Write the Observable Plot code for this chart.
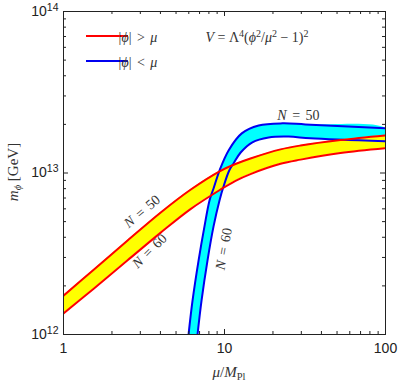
<!DOCTYPE html>
<html><head><meta charset="utf-8">
<script src="https://cdn.jsdelivr.net/npm/d3@7"></script>
<script src="https://cdn.jsdelivr.net/npm/@observablehq/plot@0.6"></script>
<style>body{margin:0;background:#fff}</style>
</head><body><div id="chart"></div>
<script>
// ---- data ----
const xMajor = [1, 10, 100];
const yMajor = [1e12, 1e13, 1e14];
const xMinor = [2, 3, 4, 5, 6, 7, 8, 9, 20, 30, 40, 50, 60, 70, 80, 90];
const yMinor = [2e12, 3e12, 4e12, 5e12, 6e12, 7e12, 8e12, 9e12, 2e13, 3e13, 4e13, 5e13, 6e13, 7e13, 8e13, 9e13];

// |phi| > mu  (yellow band, red borders)
const yellowMu  = [1, 1.54, 2.5, 4.0, 6.15, 9.45, 11.7, 14.5, 22.3, 29.7, 52.5, 100];
const yellowN50 = [1.74e12, 2.52e12, 3.82e12, 5.68e12, 7.88e12, 1.032e13, 1.137e13, 1.23e13, 1.40e13, 1.48e13, 1.60e13, 1.71e13];
const yellowN60 = [1.35e12, 1.92e12, 2.88e12, 4.26e12, 5.98e12, 7.90e12, 8.95e12, 9.85e12, 1.14e13, 1.21e13, 1.33e13, 1.425e13];

// |phi| < mu  (cyan band, blue borders)
const cyanN50Mu = [5.98, 6.33, 6.90, 7.51, 8.07, 8.55, 9.31, 10.6, 12.8, 16.3, 22.9, 31.8, 100];
const cyanN50M  = [1e12, 1.62e12, 2.87e12, 4.67e12, 6.76e12, 8.02e12, 1.036e13, 1.38e13, 1.76e13, 1.97e13, 2.03e13, 2.0e13, 1.89e13];
const cyanN60Mu = [6.80, 7.20, 7.84, 8.55, 9.31, 9.86, 10.7, 11.4, 12.6, 14.9, 18.8, 25.0, 34.2, 100];
const cyanN60M  = [1e12, 1.62e12, 2.87e12, 4.67e12, 6.76e12, 8.25e12, 1.036e13, 1.15e13, 1.34e13, 1.55e13, 1.66e13, 1.68e13, 1.64e13, 1.57e13];

// curve annotations
const labelText  = ["N = 50", "N = 60", "N = 60", "N = 50"];
const labelMu    = [3.08, 3.42, 9.9, 28.8];
const labelM     = [5.78e12, 3.29e12, 3.39e12, 2.27e13];
const labelAngle = [-40, -45, -80, 0];

const legendText = ["|ϕ| > μ", "|ϕ| < μ"];
const red = "#ff0000", blue = "#0000f0", yellow = "#ffff00", cyan = "#00ffff";

// ---- tables built from the arrays ----
const yellowRows = yellowMu.map((mu, i) => ({mu, n50: yellowN50[i], n60: yellowN60[i]}));
const c50 = cyanN50Mu.map((mu, i) => ({mu, m: cyanN50M[i]}));
const c60 = cyanN60Mu.map((mu, i) => ({mu, m: cyanN60M[i]}));
const cyanPoly = c50.concat(c60.slice().reverse());
const labels = labelText.map((t, i) => ({t, mu: labelMu[i], m: labelM[i], a: labelAngle[i]}));

const W = 398, H = 381, ML = 63, MR = 13, MT = 11, MB = 47;
const PW = W - ML - MR, PH = H - MT - MB;
const majorLen = 5, minorLen = 3;
const curve = "catmull-rom";
const ink = "#222";

const svg = Plot.plot({
  width: W, height: H,
  marginLeft: ML, marginRight: MR, marginTop: MT, marginBottom: MB,
  style: {fontFamily: "'Liberation Sans', Arial, sans-serif", fontSize: "14px", background: "#fff", color: ink},
  x: {type: "log", domain: [1, 100]},
  y: {type: "log", domain: [1e12, 1e14]},
  marks: [
    Plot.line(cyanPoly, {x: "mu", y: "m", fill: cyan, stroke: "none", curve, clip: true}),
    Plot.areaY(yellowRows, {x: "mu", y1: "n60", y2: "n50", fill: yellow, curve, clip: true}),
    Plot.line(c50, {x: "mu", y: "m", stroke: blue, strokeWidth: 2, curve, clip: true}),
    Plot.line(c60, {x: "mu", y: "m", stroke: blue, strokeWidth: 2, curve, clip: true}),
    Plot.line(yellowRows, {x: "mu", y: "n50", stroke: red, strokeWidth: 2, curve, clip: true}),
    Plot.line(yellowRows, {x: "mu", y: "n60", stroke: red, strokeWidth: 2, curve, clip: true}),
    Plot.text(labels, {x: "mu", y: "m", text: "t", rotate: "a", fontFamily: "'Liberation Serif', 'DejaVu Serif', serif", fontSize: 14, fill: "#333"}),
    Plot.frame({stroke: ink}),
    // inward ticks on all four sides
    Plot.ruleX(xMajor, {insetTop: PH - majorLen, stroke: ink}),
    Plot.ruleX(xMajor, {insetBottom: PH - majorLen, stroke: ink}),
    Plot.ruleX(xMinor, {insetTop: PH - minorLen, stroke: ink}),
    Plot.ruleX(xMinor, {insetBottom: PH - minorLen, stroke: ink}),
    Plot.ruleY(yMajor, {insetRight: PW - majorLen, stroke: ink}),
    Plot.ruleY(yMajor, {insetLeft: PW - majorLen, stroke: ink}),
    Plot.ruleY(yMinor, {insetRight: PW - minorLen, stroke: ink}),
    Plot.ruleY(yMinor, {insetLeft: PW - minorLen, stroke: ink}),
    Plot.axisX(xMajor, {tickSize: 0, tickPadding: 9, tickFormat: d => String(d), label: null}),
    Plot.axisY(yMajor, {tickSize: 0, tickPadding: 5, tickFormat: d => "10^" + Math.round(Math.log10(d)), label: null})
  ]
});
document.getElementById("chart").appendChild(svg);

const root = d3.select(svg);
const serif = "'Liberation Serif', 'DejaVu Serif', serif";

// y tick labels with superscript exponents
root.selectAll('g[aria-label="y-axis tick label"] text').each(function () {
  const [b, e] = this.textContent.split("^");
  const s = d3.select(this).text(null);
  s.append("tspan").text(b);
  s.append("tspan").attr("dy", "-5").attr("font-size", "10.5px").text(e);
});

// curve labels: italic N
root.selectAll('g[aria-label="text"] text').each(function () {
  const t = this.textContent;
  if (!t.startsWith("N")) return;
  const s = d3.select(this).text(null).attr("word-spacing", "2px");
  s.append("tspan").attr("font-style", "italic").text("N");
  s.append("tspan").text(t.slice(1));
});

const g = root.append("g").attr("font-family", serif).attr("fill", "#333");

// legend
[red, blue].forEach((c, i) => {
  const y = 36 + i * 25;
  g.append("line").attr("x1", 86).attr("x2", 128).attr("y1", y).attr("y2", y)
    .attr("stroke", c).attr("stroke-width", 2);
  const t = g.append("text").attr("x", 138).attr("y", y + 6).attr("font-size", 14).attr("word-spacing", "2px");
  const s = legendText[i];
  t.append("tspan").text("|");
  t.append("tspan").attr("font-style", "italic").text("ϕ");
  t.append("tspan").text(s.slice(2, s.length - 1));
  t.append("tspan").attr("font-style", "italic").text("μ");
});

// potential formula
{
  const t = g.append("text").attr("x", 257).attr("y", 42).attr("font-size", 14);
  t.append("tspan").attr("font-style", "italic").text("V");
  t.append("tspan").text(" = Λ");
  t.append("tspan").attr("dy", -5).attr("font-size", 10).text("4");
  t.append("tspan").attr("dy", 5).text("(");
  t.append("tspan").attr("font-style", "italic").text("ϕ");
  t.append("tspan").attr("dy", -5).attr("font-size", 10).text("2");
  t.append("tspan").attr("dy", 5).text("/");
  t.append("tspan").attr("font-style", "italic").text("μ");
  t.append("tspan").attr("dy", -5).attr("font-size", 10).text("2");
  t.append("tspan").attr("dy", 5).text(" − 1)");
  t.append("tspan").attr("dy", -5).attr("font-size", 10).text("2");
}

// x axis title
{
  const t = g.append("text").attr("x", 229).attr("y", 377).attr("text-anchor", "middle").attr("font-size", 15);
  t.append("tspan").attr("font-style", "italic").text("μ");
  t.append("tspan").text("/");
  t.append("tspan").attr("font-style", "italic").text("M");
  t.append("tspan").attr("dy", 3).attr("font-size", 10.5).text("Pl");
}
// y axis title
{
  const t = g.append("text").attr("transform", "translate(18,172) rotate(-90)").attr("text-anchor", "middle").attr("font-size", 15);
  t.append("tspan").attr("font-style", "italic").text("m");
  t.append("tspan").attr("dy", 3).attr("font-size", 10.5).attr("font-style", "italic").text("ϕ");
  t.append("tspan").attr("dy", -3).text(" [GeV]");
}
</script>
</body></html>
